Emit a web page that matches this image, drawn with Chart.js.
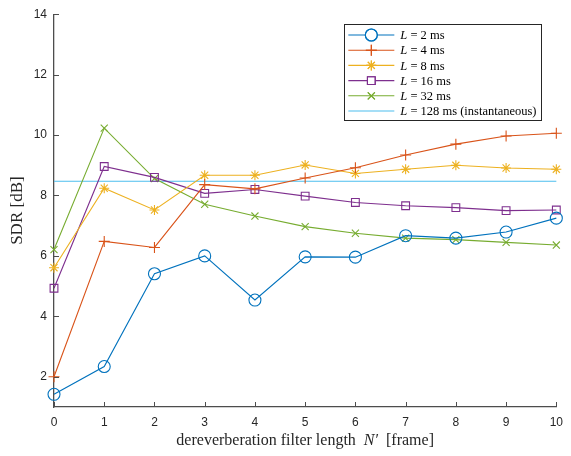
<!DOCTYPE html>
<html>
<head>
<meta charset="utf-8">
<script src="https://cdn.jsdelivr.net/npm/chart.js@4/dist/chart.umd.min.js"></script>
<style>
  html, body { margin: 0; padding: 0; background: #fff; }
  #wrap { width: 571px; height: 456px; }
</style>
</head>
<body>
<div id="wrap"><canvas id="sdrChart"></canvas></div>
<script>
// --- datos ---
const xVals = [0, 1, 2, 3, 4, 5, 6, 7, 8, 9, 10];
const yTicks = [2, 4, 6, 8, 10, 12, 14];
const sdr2ms = [1.42, 2.34, 5.41, 6.00, 4.54, 5.97, 5.96, 6.67, 6.59, 6.79, 7.25];
const sdr4ms = [2.00, 6.48, 6.28, 8.36, 8.22, 8.58, 8.92, 9.34, 9.70, 9.97, 10.06];
const sdr8ms = [5.61, 8.24, 7.52, 8.67, 8.67, 9.01, 8.73, 8.87, 9.00, 8.91, 8.87];
const sdr16ms = [4.93, 8.96, 8.60, 8.07, 8.20, 7.98, 7.77, 7.66, 7.60, 7.50, 7.52];
const sdr32ms = [6.21, 10.23, 8.56, 7.71, 7.32, 6.97, 6.75, 6.59, 6.54, 6.45, 6.36];
const sdr128ms = [8.47, 8.47, 8.47, 8.47, 8.47, 8.47, 8.47, 8.47, 8.47, 8.47, 8.47];
const legendValues = ['2', '4', '8', '16', '32', '128'];
const legendSuffix = ['', '', '', '', '', ' (instantaneous)'];

const SERIF = '"Liberation Serif", "DejaVu Serif", serif';
const SANS = '"Liberation Sans", Arial, sans-serif';
const AXIS_COLOR = '#4d4d4d';

function buildDataset(data, color, pointStyle, radius) {
    return {
        data: data.map((y, i) => ({ x: xVals[i], y })),
        borderColor: color,
        backgroundColor: 'transparent',
        borderWidth: 1.1,
        pointStyle: pointStyle || false,
        pointRadius: pointStyle ? radius : 0,
        pointBorderColor: color,
        pointBackgroundColor: 'transparent',
        pointBorderWidth: 1.1,
        tension: 0,
        clip: false
    };
}

const datasets = [
    buildDataset(sdr2ms, '#0072BD', 'circle', 6),
    buildDataset(sdr4ms, '#D95319', 'cross', 5.5),
    buildDataset(sdr8ms, '#EDB120', 'star', 5),
    buildDataset(sdr16ms, '#7E2F8E', 'rect', 5.5),
    buildDataset(sdr32ms, '#77AC30', 'crossRot', 5),
    buildDataset(sdr128ms, '#4DBEEE', false, 0)
];

// ticks hacia dentro, títulos y leyenda estilo MATLAB
const decorPlugin = {
    id: 'decor',
    afterDraw(chart) {
        const ctx = chart.ctx;
        const area = chart.chartArea;
        const xs = chart.scales.x, ys = chart.scales.y;
        ctx.save();
        ctx.strokeStyle = AXIS_COLOR;
        ctx.lineWidth = 1;
        xVals.forEach(v => {
            const px = Math.round(xs.getPixelForValue(v)) + 0.5;
            ctx.beginPath();
            ctx.moveTo(px, area.bottom);
            ctx.lineTo(px, area.bottom - 5);
            ctx.stroke();
        });
        yTicks.forEach(v => {
            const py = Math.round(ys.getPixelForValue(v)) + 0.5;
            ctx.beginPath();
            ctx.moveTo(area.left, py);
            ctx.lineTo(area.left + 5, py);
            ctx.stroke();
        });

        // título eje X
        ctx.fillStyle = '#262626';
        ctx.textBaseline = 'middle';
        const parts = [
            { t: 'dereverberation filter length  ', f: '16px ' + SERIF },
            { t: 'N\u2032', f: 'italic 16px ' + SERIF },
            { t: '  [frame]', f: '16px ' + SERIF }
        ];
        let total = 0;
        parts.forEach(p => { ctx.font = p.f; p.w = ctx.measureText(p.t).width; total += p.w; });
        let cx = (area.left + area.right) / 2 - total / 2;
        parts.forEach(p => { ctx.font = p.f; ctx.textAlign = 'left'; ctx.fillText(p.t, cx, 441); cx += p.w; });

        // título eje Y
        ctx.save();
        ctx.translate(18, (area.top + area.bottom) / 2);
        ctx.rotate(-Math.PI / 2);
        ctx.font = '17px ' + SERIF;
        ctx.textAlign = 'center';
        ctx.fillText('SDR [dB]', 0, 0);
        ctx.restore();

        // leyenda
        const boxR = area.right - 15, boxL = boxR - 197, boxT = 24, boxH = 96;
        ctx.fillStyle = '#fff';
        ctx.fillRect(boxL, boxT, boxR - boxL, boxH);
        ctx.strokeStyle = '#262626';
        ctx.lineWidth = 1;
        ctx.strokeRect(Math.round(boxL) + 0.5, boxT + 0.5, boxR - boxL, boxH);
        datasets.forEach((ds, i) => {
            const y = 35 + i * 15.2;
            ctx.strokeStyle = ds.borderColor;
            ctx.lineWidth = 1.1;
            ctx.beginPath();
            ctx.moveTo(boxL + 4, y);
            ctx.lineTo(boxL + 50, y);
            ctx.stroke();
            if (ds.pointStyle && Chart.helpers && Chart.helpers.drawPoint) {
                ctx.fillStyle = '#fff';
                Chart.helpers.drawPoint(ctx, {
                    pointStyle: ds.pointStyle,
                    radius: ds.pointRadius,
                    borderWidth: 1.1,
                    rotation: 0
                }, boxL + 27, y);
                ctx.stroke();
            }
            ctx.fillStyle = '#000';
            ctx.textAlign = 'left';
            let tx = boxL + 56;
            ctx.font = 'italic 12.5px ' + SERIF;
            ctx.fillText('L', tx, y + 1);
            tx += ctx.measureText('L').width;
            ctx.font = '12.5px ' + SERIF;
            ctx.fillText(' = ' + legendValues[i] + ' ms' + legendSuffix[i], tx, y + 1);
        });
        ctx.restore();
    }
};

new Chart(document.getElementById('sdrChart'), {
    type: 'line',
    data: { datasets },
    plugins: [decorPlugin],
    options: {
        responsive: true,
        maintainAspectRatio: false,
        animation: false,
        layout: { padding: { top: 12, right: 13, left: 0, bottom: 0 } },
        plugins: { legend: { display: false }, tooltip: { enabled: false } },
        scales: {
            x: {
                type: 'linear',
                min: 0,
                max: 10,
                ticks: { stepSize: 1, color: '#262626', font: { family: SANS, size: 12 }, padding: 8, maxRotation: 0 },
                grid: { display: false, drawTicks: false },
                border: { color: AXIS_COLOR, width: 1.3 },
                afterFit(scale) { scale.height = 49; }
            },
            y: {
                min: 1,
                max: 14,
                afterBuildTicks(scale) { scale.ticks = yTicks.map(v => ({ value: v })); },
                ticks: { color: '#262626', font: { family: SANS, size: 12 }, padding: 7 },
                grid: { display: false, drawTicks: false },
                border: { color: AXIS_COLOR, width: 1.3 },
                afterFit(scale) { scale.width = 54; }
            }
        }
    }
});
</script>
</body>
</html>
